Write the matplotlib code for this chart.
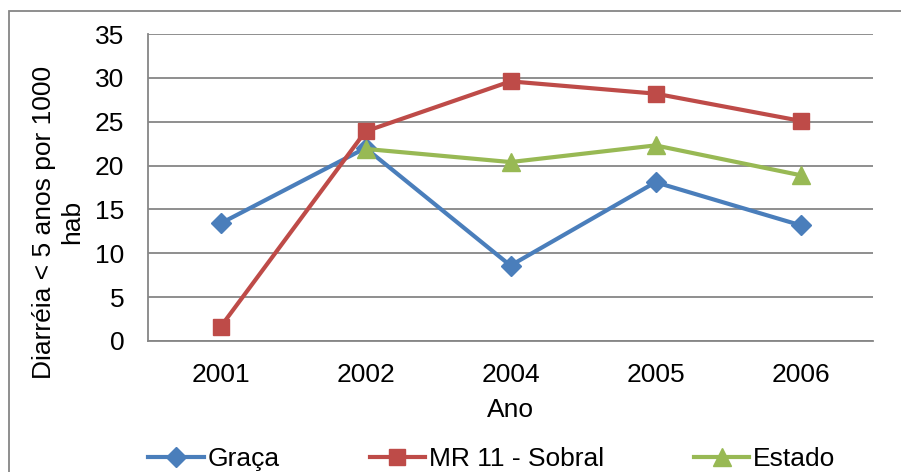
import matplotlib.pyplot as plt
import matplotlib.patches as mpatches
import numpy as np

plt.rcParams['font.family'] = ['Liberation Sans', 'DejaVu Sans']

# Data
anos = ['2001', '2002', '2004', '2005', '2006']
graca = [13.4, 22.0, 8.6, 18.1, 13.2]
sobral = [1.6, 23.9, 29.6, 28.2, 25.1]
estado = [np.nan, 21.9, 20.4, 22.3, 18.9]

fs = 19

fig = plt.figure(figsize=(9.01, 4.72), dpi=100)
ax = fig.add_axes([148 / 901, 1 - 341 / 472, 725 / 901, 307 / 472])

x = np.arange(len(anos))
ax.plot(x, graca, color='#4A7EBB', lw=3, marker='D', markersize=10.5, label='Graça')
ax.plot(x, sobral, color='#BE4B48', lw=3, marker='s', markersize=12, label='MR 11 - Sobral')
ax.plot(x, estado, color='#98B954', lw=3, marker='^', markersize=13, label='Estado')

ax.set_xlim(-0.5, 4.5)
ax.set_ylim(0, 35)
ax.set_yticks(range(0, 36, 5))
ax.set_xticks(x)
ax.set_xticklabels(anos)
ax.tick_params(axis='both', length=0, labelsize=fs)
ax.tick_params(axis='x', pad=16)
ax.tick_params(axis='y', pad=17)
ax.grid(axis='y', color='#868686', lw=1.3)
ax.set_axisbelow(True)
for s in ['top', 'right']:
    ax.spines[s].set_visible(False)
for s in ['left', 'bottom']:
    ax.spines[s].set_color('#868686')
    ax.spines[s].set_linewidth(1.3)

ax.set_xlabel('Ano', fontsize=fs, labelpad=8)
fig.text(58 / 901, 1 - 222 / 472, 'Diarréia < 5 anos por 1000\nhab', rotation=90,
         ha='center', va='center', multialignment='center', fontsize=fs, linespacing=1.2)

fig.legend(loc='center', bbox_to_anchor=(492 / 901, 1 - 459 / 472), ncol=3, frameon=False,
           fontsize=fs, handlelength=2.1, handletextpad=0.15, columnspacing=3.4)

# chart border (cut off at right and bottom)
fig.patches.append(mpatches.Rectangle((9 / 901, -0.1), 1.1, 1 - 11 / 472 + 0.1,
                                      transform=fig.transFigure, fill=False,
                                      edgecolor='#868686', lw=1.3))

plt.savefig('out.png', dpi=100)
